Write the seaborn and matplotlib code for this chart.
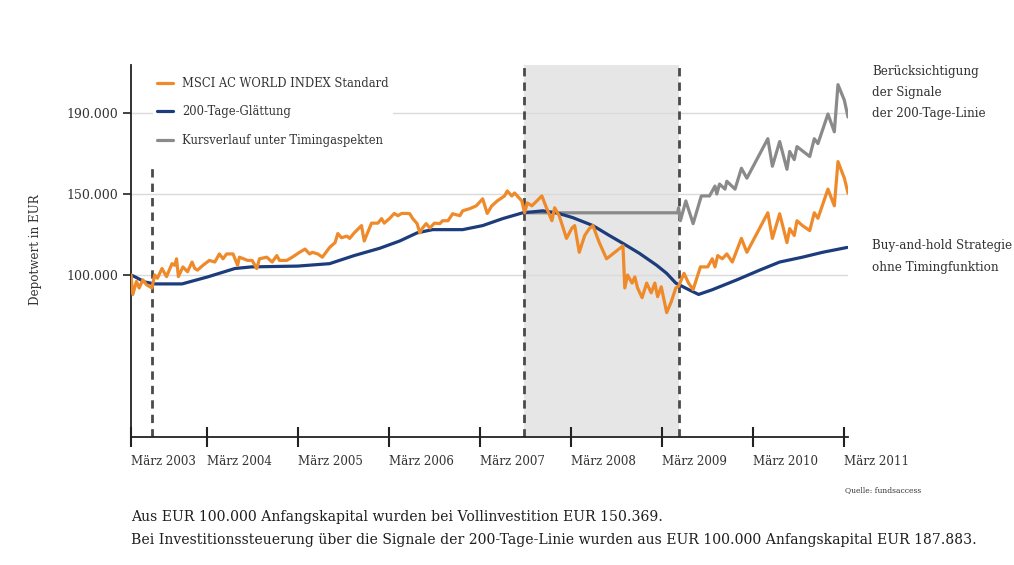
import numpy as np
import pandas as pd
import matplotlib
matplotlib.use("Agg")
import matplotlib.pyplot as plt
import seaborn as sns

# ---------------- data (decimal years, depot value in thousand EUR) ----------------
msci_x = [2003.17, 2003.19, 2003.23, 2003.26, 2003.30, 2003.34, 2003.40, 2003.43, 2003.46, 2003.51,
          2003.56, 2003.62, 2003.65, 2003.67, 2003.69, 2003.74, 2003.79, 2003.84, 2003.87, 2003.90,
          2003.96, 2004.03, 2004.09, 2004.14, 2004.18, 2004.22, 2004.29, 2004.34, 2004.36, 2004.45,
          2004.50, 2004.55, 2004.58, 2004.66, 2004.72, 2004.77, 2004.80, 2004.88, 2004.94, 2005.02,
          2005.08, 2005.13, 2005.16, 2005.22, 2005.27, 2005.35, 2005.41, 2005.44, 2005.48, 2005.54,
          2005.57, 2005.62, 2005.70, 2005.73, 2005.81, 2005.88, 2005.92, 2005.95, 2006.01, 2006.06,
          2006.10, 2006.14, 2006.20, 2006.23, 2006.26, 2006.31, 2006.34, 2006.37, 2006.41, 2006.45,
          2006.50, 2006.56, 2006.59, 2006.65, 2006.70, 2006.78, 2006.81, 2006.89, 2006.96, 2007.03,
          2007.08, 2007.13, 2007.19, 2007.27, 2007.30, 2007.35, 2007.38, 2007.41, 2007.46, 2007.49,
          2007.52, 2007.57, 2007.68, 2007.73, 2007.79, 2007.82, 2007.87, 2007.95, 2008.01, 2008.04,
          2008.09, 2008.15, 2008.20, 2008.24, 2008.31, 2008.39, 2008.57, 2008.59, 2008.62, 2008.67,
          2008.70, 2008.73, 2008.78, 2008.83, 2008.88, 2008.92, 2008.95, 2008.99, 2009.05, 2009.10,
          2009.15, 2009.18, 2009.24, 2009.29, 2009.34, 2009.42, 2009.50, 2009.55, 2009.58, 2009.61,
          2009.66, 2009.71, 2009.77, 2009.87, 2009.93, 2010.04, 2010.16, 2010.21, 2010.29, 2010.37,
          2010.40, 2010.45, 2010.48, 2010.54, 2010.62, 2010.67, 2010.71, 2010.82, 2010.89, 2010.93,
          2011.00, 2011.04]
msci_y = [100, 88, 96, 92, 97, 94, 92, 100, 98, 104,
          99, 107, 106, 110, 99, 105, 102, 108, 104, 103,
          106, 109, 108, 113, 110, 113, 113, 106, 111, 109,
          109, 104, 110, 111, 108, 112, 109, 109, 111, 114,
          116, 113, 114, 113, 111, 117, 120, 125.6, 123, 124,
          122.6, 126, 130.5, 121, 132, 132, 134.8, 132, 135, 138,
          136.6, 138, 138, 137.8, 135, 131.7, 126, 129, 131.7, 129,
          132, 131.7, 133.5, 133.5, 137.8, 136.6, 139.6, 141, 142.7, 147,
          138, 142.7, 145.7, 148.8, 151.5, 148.8, 150.5, 148.8, 145.7, 138.4,
          144.5, 142.7, 148.8, 141.5, 133.5, 141.5, 136.6, 122.6, 129, 130.5,
          114, 124.4, 128.6, 130.5, 120, 110, 118, 92, 100, 95,
          98.8, 92, 86, 95, 89, 95, 86.6, 92.7, 76.8, 83.5,
          92, 93, 101, 95, 91, 105, 105, 110, 105, 112,
          110, 113, 108, 122.6, 114, 125.6, 138.4, 122.6, 137.8, 120,
          128.6, 124.4, 133.5, 130.5, 127.4, 138.4, 135, 152.4, 142.7, 166,
          157.8, 150.4]

glatt_x = [2003.17, 2003.21, 2003.32, 2003.43, 2003.73, 2004.01, 2004.31, 2004.49, 2005.00, 2005.35,
           2005.62, 2005.90, 2006.12, 2006.31, 2006.48, 2006.81, 2007.03, 2007.25, 2007.47, 2007.69,
           2007.84, 2008.02, 2008.24, 2008.42, 2008.57, 2008.75, 2008.94, 2009.05, 2009.15, 2009.29,
           2009.40, 2009.55, 2009.82, 2010.07, 2010.29, 2010.54, 2010.76, 2011.03]
glatt_y = [100, 99, 95.7, 94.5, 94.5, 98.8, 104, 105, 105.5, 107,
           112, 116.5, 121, 126, 128, 128, 130.5, 134.8, 138.4, 139.6,
           138.4, 135.4, 130.5, 124.4, 119.5, 113.4, 106, 101, 95, 91,
           88, 90.9, 97, 103, 108, 111, 114, 117]

timing_x = [2007.49, 2009.17, 2009.18, 2009.20, 2009.26, 2009.34, 2009.43, 2009.52, 2009.58, 2009.60,
            2009.63, 2009.69, 2009.71, 2009.80, 2009.87, 2009.93, 2010.16, 2010.21, 2010.29, 2010.37,
            2010.40, 2010.45, 2010.48, 2010.62, 2010.67, 2010.71, 2010.82, 2010.89, 2010.93, 2011.00,
            2011.04]
timing_y = [138.4, 138.4, 141.5, 133.5, 145.7, 131.7, 148.8, 148.8, 153.9, 150,
            154.9, 152.4, 156.3, 152.4, 162.7, 157.8, 177.3, 163.7, 175.9, 162.2,
            171, 167, 173.4, 168.5, 177.3, 174.9, 189.5, 180.7, 204, 196.3,
            188]

series_labels = ["MSCI AC WORLD INDEX Standard", "200-Tage-Glättung", "Kursverlauf unter Timingaspekten"]
x_tick_labels = ["März 2003", "März 2004", "März 2005", "März 2006", "März 2007",
                 "März 2008", "März 2009", "März 2010", "März 2011"]
y_tick_values = [100, 150, 190]
y_tick_labels = ["100.000", "150.000", "190.000"]
signal_period = [2007.48, 2009.19]
start_signal = 2003.40

# ---------------- style ----------------
sns.set_style("white")
plt.rcParams["font.family"] = ["DejaVu Serif"]
TXT = "#333333"
C_ORANGE = "#ef8a2a"
C_BLUE = "#1c3c7c"
C_GREY = "#8a8a8a"

fig = plt.figure(figsize=(10.14, 5.65), dpi=100)
ax = fig.add_axes([131 / 1014, 128 / 565, 717 / 1014, 372 / 565])


def fwd(v):
    v = np.asarray(v, dtype=float)
    return np.where(v > 150, 150 + (v - 150) * 1.25, v)


def inv(d):
    d = np.asarray(d, dtype=float)
    return np.where(d > 150, 150 + (d - 150) / 1.25, d)


ax.set_yscale("function", functions=(fwd, inv))

# shaded period & dashed markers
ax.axvspan(signal_period[0], signal_period[1], color="#e6e6e6", zorder=0, lw=0)
for xv in signal_period:
    ax.axvline(xv, color="#4a4a4a", lw=2, ls=(0, (3, 2.2)), zorder=1)
ax.axvline(start_signal, ymax=0.73, color="#4a4a4a", lw=2, ls=(0, (3, 2.2)), zorder=1)

# grid
for yv in y_tick_values:
    ax.axhline(yv, color="#dadada", lw=1, zorder=0.5)

df_t = pd.DataFrame({"x": timing_x, "y": timing_y})
df_g = pd.DataFrame({"x": glatt_x, "y": glatt_y})
df_m = pd.DataFrame({"x": msci_x, "y": msci_y})

sns.lineplot(data=df_t, x="x", y="y", ax=ax, color=C_GREY, lw=2.3, estimator=None, sort=False,
             label=series_labels[2], zorder=3)
sns.lineplot(data=df_g, x="x", y="y", ax=ax, color=C_BLUE, lw=2.3, estimator=None, sort=False,
             label=series_labels[1], zorder=4)
sns.lineplot(data=df_m, x="x", y="y", ax=ax, color=C_ORANGE, lw=2.3, estimator=None, sort=False,
             label=series_labels[0], zorder=5)

ax.set_xlim(2003.17, 2011.04)
ax.set_ylim(0, 213.7)

xt = [2003.17] + list(range(2004, 2012))
ax.set_xticks(xt)
ax.set_xticklabels(x_tick_labels, ha="left", fontsize=8.6, color=TXT)
ax.set_yticks(y_tick_values)
ax.set_yticklabels(y_tick_labels, fontsize=9.0, color=TXT)
ax.minorticks_off()
ax.tick_params(axis="x", bottom=True, direction="inout", length=14, width=1.5, color="#222222", pad=6)
ax.tick_params(axis="y", left=True, direction="out", length=6, width=1.2, color="#222222", pad=3)
ax.set_xlabel("")
ax.set_ylabel("")

for s in ["top", "right"]:
    ax.spines[s].set_visible(False)
for s in ["left", "bottom"]:
    ax.spines[s].set_color("#222222")
    ax.spines[s].set_linewidth(1.3)

# legend in original order
h, l = ax.get_legend_handles_labels()
order = [l.index(t) for t in series_labels]
leg = ax.legend([h[i] for i in order], [l[i] for i in order], loc="upper left",
                bbox_to_anchor=(0.022, 0.995), frameon=True, facecolor="white", edgecolor="none",
                framealpha=1, fontsize=8.3, labelspacing=1.35, handlelength=1.45, handletextpad=0.75,
                borderpad=0.35)
for t in leg.get_texts():
    t.set_color(TXT)
leg.set_zorder(6)

# texts
fig.text(35 / 1014, 1 - 250 / 565, "Depotwert in EUR", rotation=90, ha="center", va="center",
         fontsize=8.6, color=TXT)
for i, s in enumerate(["Berücksichtigung", "der Signale", "der 200-Tage-Linie"]):
    fig.text(872 / 1014, 1 - (72 + 20.5 * i) / 565, s, ha="left", va="center", fontsize=8.6, color=TXT)
for i, s in enumerate(["Buy-and-hold Strategie", "ohne Timingfunktion"]):
    fig.text(872 / 1014, 1 - (246 + 21.5 * i) / 565, s, ha="left", va="center", fontsize=8.6, color=TXT)
fig.text(845 / 1014, 1 - 490 / 565, "Quelle: fundsaccess", ha="left", va="center", fontsize=5.5,
         color=TXT)
fig.text(131 / 1014, 1 - 517 / 565,
         "Aus EUR 100.000 Anfangskapital wurden bei Vollinvestition EUR 150.369.",
         ha="left", va="center", fontsize=10.05, color="#1e1e1e")
fig.text(131 / 1014, 1 - 540 / 565,
         "Bei Investitionssteuerung über die Signale der 200-Tage-Linie wurden aus EUR 100.000 Anfangskapital EUR 187.883.",
         ha="left", va="center", fontsize=10.05, color="#1e1e1e")

fig.savefig("out.png", dpi=100)
